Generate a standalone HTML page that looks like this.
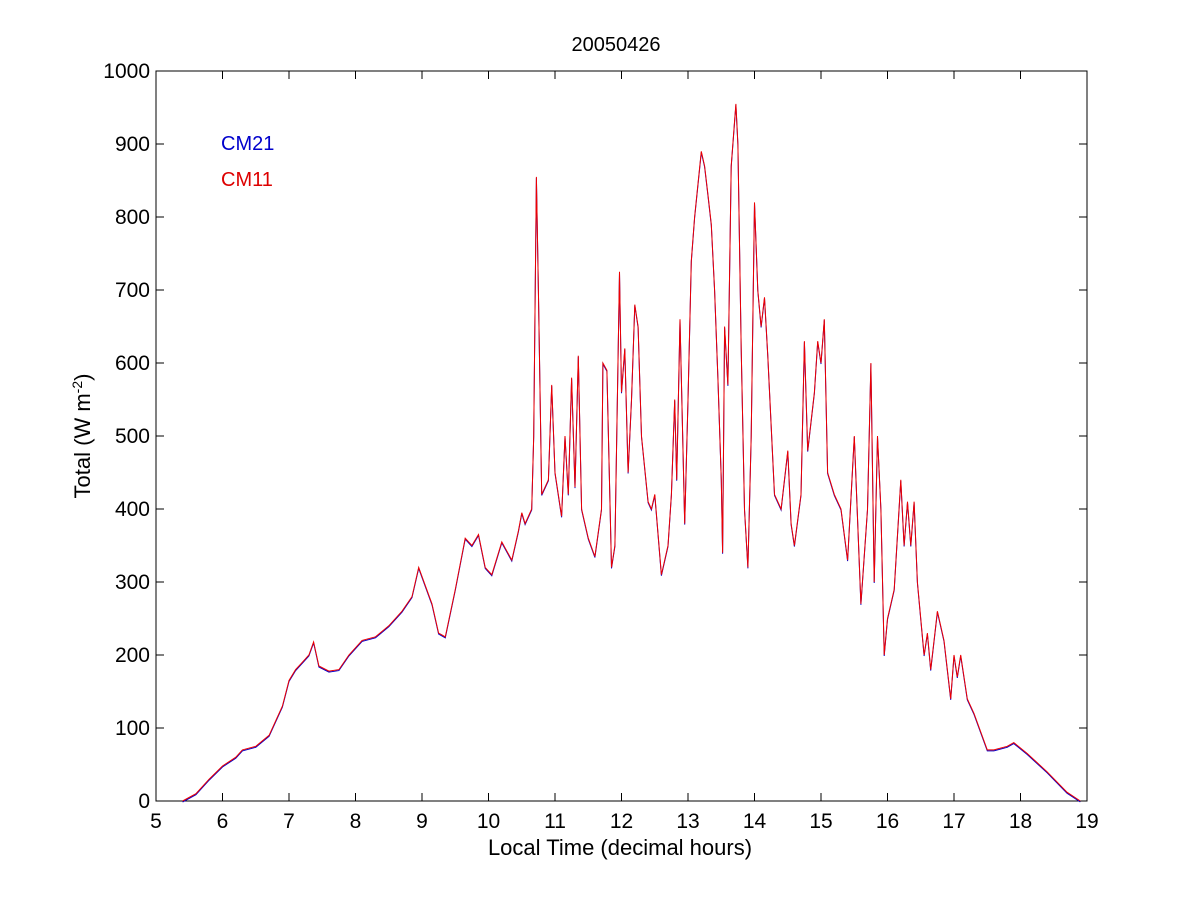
<!DOCTYPE html>
<html><head><meta charset="utf-8"><style>
html,body{margin:0;padding:0;background:#fff;}
svg text{font-family:"Liberation Sans",Arial,sans-serif;font-size:21px;fill:#000;}
</style></head><body>
<svg id="s" width="1200" height="900" xmlns="http://www.w3.org/2000/svg">
<rect x="0" y="0" width="1200" height="900" fill="#fff"/>
<rect x="156" y="71" width="931" height="730" fill="#fff" stroke="#000" stroke-width="1"/>
<g id="ticks" stroke="#000" stroke-width="1"></g>
<g id="labels"></g>
<text x="616" y="51" text-anchor="middle" style="font-size:20px">20050426</text>
<text x="620" y="855" text-anchor="middle" style="font-size:22px">Local Time (decimal hours)</text>
<text transform="translate(90,436) rotate(-90)" text-anchor="middle" style="font-size:22px">Total (W m<tspan dy="-8" style="font-size:14px">-2</tspan><tspan dy="8">)</tspan></text>
<text x="221" y="150" style="fill:#0000cc;font-size:20px">CM21</text>
<text x="221" y="186" style="fill:#dd0000;font-size:20px">CM11</text>
<polyline id="b" fill="none" stroke="#0000cc" stroke-width="1"/>
<polyline id="r" fill="none" stroke="#ee0000" stroke-width="1"/>
</svg>
<script>
var X=function(h){return 156+(h-5)*931/14;},Y=function(v){return 801-v*0.73;};
var t=document.getElementById('ticks'),l=document.getElementById('labels'),s='';
var ls='';
for(var h=5;h<=19;h++){var x=X(h);s+='<line x1="'+x+'" y1="801" x2="'+x+'" y2="793"/><line x1="'+x+'" y1="71" x2="'+x+'" y2="79"/>';ls+='<text x="'+x+'" y="828" text-anchor="middle">'+h+'</text>';}
for(var v=0;v<=1000;v+=100){var y=Y(v);s+='<line x1="156" y1="'+y+'" x2="164" y2="'+y+'"/><line x1="1087" y1="'+y+'" x2="1079" y2="'+y+'"/>';ls+='<text x="150" y="'+(y+7)+'" text-anchor="end">'+v+'</text>';}
t.innerHTML=s;l.innerHTML=ls;
var d=[5.4,0,5.6,10,5.8,30,6.0,48,6.2,60,6.3,70,6.5,75,6.7,90,6.9,130,7.0,165,7.1,180,7.2,190,7.3,200,7.37,218,7.45,185,7.6,178,7.75,180,7.9,200,8.1,220,8.3,225,8.5,240,8.7,260,8.85,280,8.95,320,9.05,295,9.15,270,9.25,230,9.35,225,9.5,290,9.65,360,9.75,350,9.85,365,9.95,320,10.05,310,10.2,355,10.35,330,10.45,370,10.5,395,10.55,380,10.65,400,10.68,500,10.72,855,10.75,700,10.8,420,10.9,440,10.95,570,11.0,450,11.1,390,11.15,500,11.2,420,11.25,580,11.3,430,11.35,610,11.4,400,11.5,360,11.6,335,11.7,400,11.72,600,11.78,590,11.85,320,11.9,350,11.97,725,12.0,560,12.05,620,12.1,450,12.15,550,12.2,680,12.25,650,12.3,500,12.4,410,12.45,400,12.5,420,12.6,310,12.7,350,12.75,420,12.8,550,12.83,440,12.88,660,12.95,380,13.0,550,13.05,740,13.1,800,13.2,890,13.25,870,13.3,830,13.35,790,13.4,700,13.45,580,13.5,440,13.52,340,13.55,650,13.6,570,13.65,870,13.7,930,13.72,955,13.75,900,13.8,620,13.85,400,13.9,320,13.95,500,14.0,820,14.05,700,14.1,650,14.15,690,14.2,610,14.3,420,14.4,400,14.5,480,14.55,380,14.6,350,14.7,420,14.75,630,14.8,480,14.9,560,14.95,630,15.0,600,15.05,660,15.1,450,15.2,420,15.3,400,15.4,330,15.5,500,15.6,270,15.7,400,15.75,600,15.8,300,15.85,500,15.9,400,15.95,200,16.0,250,16.1,290,16.2,440,16.25,350,16.3,410,16.35,350,16.4,410,16.45,300,16.55,200,16.6,230,16.65,180,16.75,260,16.85,220,16.95,140,17.0,200,17.05,170,17.1,200,17.2,140,17.3,120,17.5,70,17.6,70,17.8,75,17.9,80,18.1,65,18.4,40,18.7,12,18.9,0];
var p='',q='';
for(var i=0;i<d.length;i+=2){p+=X(d[i]).toFixed(1)+','+Y(d[i+1]).toFixed(1)+' ';q+=X(d[i]).toFixed(1)+','+(Y(d[i+1])+1).toFixed(1)+' ';}
document.getElementById('b').setAttribute('points',q);
document.getElementById('r').setAttribute('points',p);
</script>
</body></html>
